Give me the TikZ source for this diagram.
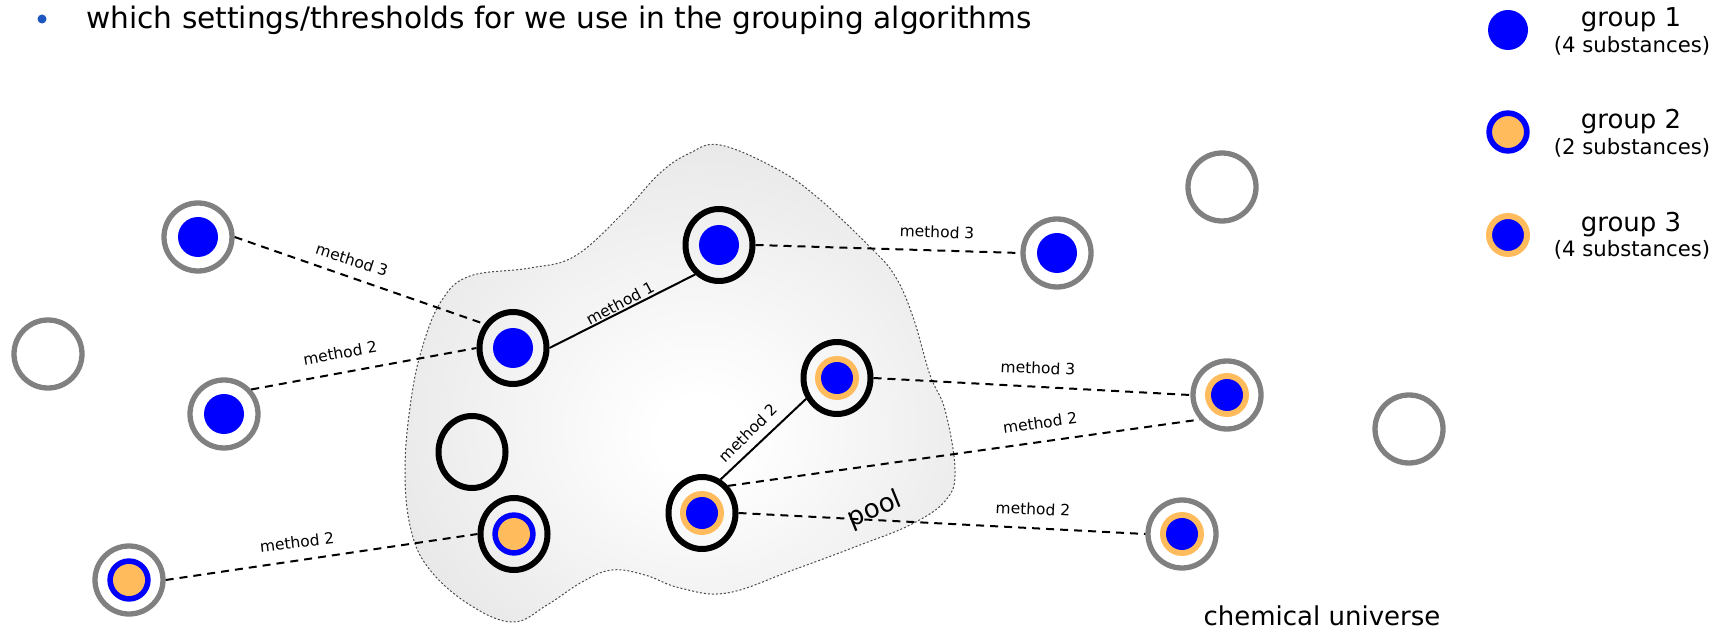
\documentclass[tikz,border=0pt]{standalone}
\usepackage{fontspec}
\setmainfont{DejaVu Sans}
\usetikzlibrary{shapes.geometric}
\definecolor{dotblue}{RGB}{0,0,255}
\definecolor{dotorange}{RGB}{255,187,92}
\definecolor{ringgray}{RGB}{128,128,128}
\definecolor{bulletblue}{RGB}{28,86,190}
\definecolor{poolgray}{gray}{0.865}
\definecolor{edgegray}{gray}{0.3}
\pgfdeclareradialshading{poolshade}{\pgfpoint{2bp}{-6bp}}{color(0bp)=(white); color(4bp)=(white); color(42bp)=(poolgray); color(70bp)=(poolgray)}
\tikzset{
  gring/.style={circle, draw=ringgray, line width=2.65pt, minimum size=34pt, inner sep=0pt},
  bring/.style={ellipse, draw=black, line width=3pt, minimum width=33.5pt, minimum height=36pt, inner sep=0pt},
  gA/.style={path picture={\fill[dotblue] (path picture bounding box.center) circle (10pt);}},
  gB/.style={path picture={\fill[dotblue] (path picture bounding box.center) circle (10.85pt);
                           \fill[dotorange] (path picture bounding box.center) circle (8pt);}},
  gC/.style={path picture={\fill[dotorange] (path picture bounding box.center) circle (11pt);
                           \fill[dotblue] (path picture bounding box.center) circle (8pt);}},
  dlink/.style={line width=1pt, dash pattern=on 4pt off 3pt},
  slink/.style={line width=1pt},
  mlabel/.style={font=\fontsize{7.75}{9}\selectfont, inner sep=0pt},
  bigtext/.style={font=\fontsize{13}{15}\selectfont, inner sep=0pt},
  smalltext/.style={font=\fontsize{10.6}{12}\selectfont, inner sep=0pt},
  pooledge/.style={draw=edgegray, line width=0.5pt, dash pattern=on 1pt off 1pt},
}
\begin{document}
\begin{tikzpicture}[x=0.5pt, y=-0.5pt]
\useasboundingbox (0,0) rectangle (1727,630);

% title
\node[circle, fill=bulletblue, minimum size=4.5pt, inner sep=0pt] (bullet) at (42,19) {};
\node[anchor=base west, font=\fontsize{14.8}{17}\selectfont, inner sep=0pt] (title) at (86,29)
  {which settings/thresholds for we use in the grouping algorithms};

% pool
\path[pooledge, shading=poolshade] plot[smooth cycle, tension=0.65] coordinates {
 (720,145) (775,168) (817,197) (870,247) (895,276) (913,317) (930,375) (945,410) (955,470)
 (946,500) (912,524) (860,545) (793,570) (727,593) (680,588) (645,575) (612,570) (582,582)
 (547,605) (513,622) (470,605) (430,570) (411,530) (405,470) (411,400) (423,345) (442,300)
 (470,276) (530,268) (575,256) (623,213) (660,173) (690,153)};
\node[font=\fontsize{13}{15}\selectfont, rotate=22, inner sep=0pt] (pool) at (875,510) {pool};

% outside substances (grey rings)
\node[gring, gA] (A) at (198,237) {};
\node[gring]     (L) at (48,354) {};
\node[gring, gA] (B) at (224,414) {};
\node[gring, gB] (C) at (129,580) {};
\node[gring, gA] (D) at (1057,253) {};
\node[gring]     (E) at (1222,187) {};
\node[gring, gC] (F) at (1227,395) {};
\node[gring]     (G) at (1409,429) {};
\node[gring, gC] (H) at (1182,534) {};

% pool substances (black rings)
\node[bring, gA] (P1) at (513,348) {};
\node[bring, gA] (P2) at (719,245) {};
\node[bring, gC] (P3) at (837,378) {};
\node[bring]     (P4) at (472,452) {};
\node[bring, gB] (P5) at (514,534) {};
\node[bring, gC] (P6) at (702,513) {};

% connectors
\draw[slink] (P1.east) -- (P2.231);
\draw[slink] (P6.61) -- (P3.214);
\draw[dlink] (A.east) -- (P1.140);
\draw[dlink] (B.42) -- (P1.west);
\draw[dlink] (C.east) -- (P5.west);
\draw[dlink] (P2.east) -- (D.west);
\draw[dlink] (P3.east) -- (F.west);
\draw[dlink] (P6.46) -- (F.222);
\draw[dlink] (P6.east) -- (H.west);

% connector labels
\node[mlabel, rotate=28]  (m1)  at (620,303) {method 1};
\node[mlabel, rotate=45]  (m2a) at (748,433) {method 2};
\node[mlabel, rotate=-18] (m3a) at (352,260) {method 3};
\node[mlabel, rotate=10]  (m2b) at (340,353) {method 2};
\node[mlabel, rotate=6.6] (m2c) at (297,542) {method 2};
\node[mlabel, rotate=-2]  (m3b) at (937,232) {method 3};
\node[mlabel, rotate=-2.5](m3c) at (1038,368) {method 3};
\node[mlabel, rotate=8]   (m2d) at (1040,423) {method 2};
\node[mlabel, rotate=-2.5](m2e) at (1033,509) {method 2};

\node[bigtext, anchor=base] (cu) at (1322,625) {chemical universe};

% legend
\node[circle, fill=dotblue, minimum size=20pt, inner sep=0pt] (L1) at (1508,30) {};
\node[circle, fill=dotorange, draw=dotblue, line width=2.85pt, minimum size=18.85pt, inner sep=0pt] (L2) at (1508,132) {};
\node[circle, fill=dotblue, draw=dotorange, line width=3pt, minimum size=19pt, inner sep=0pt] (L3) at (1508,235) {};
\node[bigtext, anchor=base] (t1) at (1631,27) {group 1};
\node[smalltext, anchor=base] (s1) at (1632,53) {(4 substances)};
\node[bigtext, anchor=base] (t2) at (1631,129) {group 2};
\node[smalltext, anchor=base] (s2) at (1632,155) {(2 substances)};
\node[bigtext, anchor=base] (t3) at (1631,232) {group 3};
\node[smalltext, anchor=base] (s3) at (1632,257) {(4 substances)};
\end{tikzpicture}
\end{document}
